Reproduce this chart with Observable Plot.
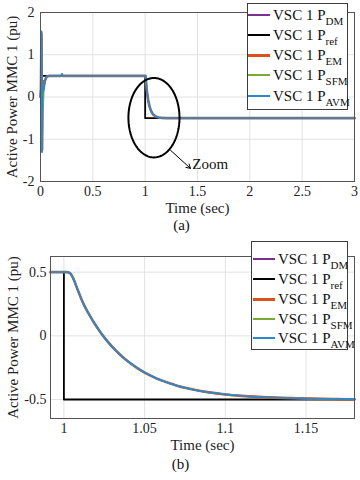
<!DOCTYPE html>
<html><head><meta charset="utf-8">
<script src="https://cdn.jsdelivr.net/npm/d3@7"></script>
<script src="https://cdn.jsdelivr.net/npm/@observablehq/plot@0.6"></script>
<style>
body{margin:0;background:#fff;}
#wrap{position:relative;width:360px;height:480px;font-family:"Liberation Serif",Tinos,"Times New Roman",Times,"DejaVu Serif",serif;overflow:hidden;}
.panel{position:absolute;left:0;width:360px;height:240px;}
.legend{position:absolute;background:#fff;border:1px solid #3c3c3c;box-sizing:border-box;}
.row{position:absolute;display:flex;align-items:center;height:20px;}
.sw{display:inline-block;width:22px;margin-right:3px;}
.lt{font-size:15px;line-height:20px;white-space:nowrap;color:#111;}
.lt sub{font-size:11px;vertical-align:-5px;line-height:0;}
</style></head>
<body>
<div id="wrap">
  <div class="panel" id="pa" style="top:0"></div>
  <div class="panel" id="pb" style="top:240px"></div>
</div>
<script>
// ---------- series meta ----------
const seriesNames = ["DM", "ref", "EM", "SFM", "AVM"];
const seriesColors = ["#7E2F8E", "#000000", "#D95319", "#77AC30", "#2b87d0"];
const legendPrefix = "VSC 1 P";

// ---------- panel (a): full run ----------
const tTop = [0, 0.004, 0.007, 0.009, 0.011, 0.013, 0.015, 0.017, 0.019, 0.022,
  0.026, 0.030, 0.035, 0.040, 0.050, 0.060, 0.070, 0.080, 0.100, 0.200,
  0.205, 0.210, 0.500, 1.000, 1.003, 1.006, 1.010, 1.015, 1.020, 1.025,
  1.030, 1.040, 1.050, 1.060, 1.070, 1.080, 1.100, 1.130, 1.160, 1.200,
  1.300, 3.000];
const pAVMTop = [0, 0.2, 1.0, 1.55, 0.9, -0.2, -1.3, -0.7, 0.05, 0.25,
  0.15, 0.18, 0.28, 0.36, 0.44, 0.48, 0.49, 0.5, 0.5, 0.5,
  0.54, 0.5, 0.5, 0.5, 0.5, 0.44, 0.315, 0.182, 0.077, -0.012,
  -0.087, -0.204, -0.288, -0.348, -0.391, -0.422, -0.46, -0.485, -0.495, -0.499,
  -0.5, -0.5];
const pDMTop = pAVMTop.slice();
const pEMTop = [0, 0.2, 1.0, 1.5, 0.9, -0.2, -1.25, -0.7, 0.05, 0.38,
  0.3, 0.2, 0.28, 0.36, 0.44, 0.48, 0.49, 0.5, 0.5, 0.5,
  0.53, 0.5, 0.5, 0.5, 0.5, 0.44, 0.315, 0.182, 0.077, -0.012,
  -0.087, -0.204, -0.288, -0.348, -0.391, -0.422, -0.46, -0.485, -0.495, -0.499,
  -0.5, -0.5];
const pSFMTop = [0, 0.2, 1.0, 1.5, 0.9, -0.2, -1.2, -0.7, 0.05, 0.1,
  -0.27, 0.0, 0.25, 0.36, 0.44, 0.48, 0.49, 0.5, 0.5, 0.5,
  0.53, 0.5, 0.5, 0.5, 0.5, 0.44, 0.315, 0.182, 0.077, -0.012,
  -0.087, -0.204, -0.288, -0.348, -0.391, -0.422, -0.46, -0.485, -0.495, -0.499,
  -0.5, -0.5];
const tRefTop = [0, 0.015, 0.015, 1.0, 1.0, 3.0];
const pRefTop = [0, 0, 0.5, 0.5, -0.5, -0.5];
const xTicksTop = [0, 0.5, 1, 1.5, 2, 2.5, 3];
const yTicksTop = [-2, -1, 0, 1, 2];
const zoomEllipse = {cx: 1.084, cy: -0.49, rx: 0.244, ry: 0.94};
const zoomArrow = {x1: 1.242, y1: -1.26, x2: 1.433, y2: -1.69};
const zoomLabel = {x: 1.45, y: -1.6, text: "Zoom"};

// ---------- panel (b): zoom ----------
const tBot = [0.9917, 1.000, 1.002, 1.004, 1.006, 1.008, 1.010, 1.0125, 1.015, 1.0175,
  1.020, 1.0225, 1.025, 1.030, 1.035, 1.040, 1.045, 1.050, 1.055, 1.060,
  1.065, 1.070, 1.075, 1.080, 1.090, 1.100, 1.110, 1.120, 1.130, 1.140,
  1.150, 1.160, 1.170, 1.180];
const pBot = [0.5, 0.5, 0.5, 0.49, 0.445, 0.38, 0.315, 0.241, 0.182, 0.127,
  0.077, 0.031, -0.012, -0.087, -0.15, -0.204, -0.249, -0.288, -0.32, -0.348,
  -0.371, -0.391, -0.408, -0.422, -0.444, -0.46, -0.471, -0.479, -0.485, -0.489,
  -0.4925, -0.495, -0.497, -0.498];
const tRefBot = [0.9917, 1.0, 1.0, 1.18];
const pRefBot = [0.5, 0.5, -0.5, -0.5];
const xTicksBot = [1, 1.05, 1.1, 1.15];
const yTicksBot = [-0.5, 0, 0.5];

const yLabel = "Active Power MMC 1 (pu)";
const xLabel = "Time (sec)";

const font = '"Liberation Serif", Tinos, "Times New Roman", Times, "DejaVu Serif", serif';
const toRows = (t, p) => t.map((d, i) => ({t: d, p: p[i]}));

function seriesMarks(rowsBySeries, curve) {
  const widths = {DM: 1.5, ref: 1.8, EM: 2.6, SFM: 1.3, AVM: 1.8};
  return seriesNames.map((s, i) =>
    Plot.line(rowsBySeries[s], {x: "t", y: "p", stroke: seriesColors[i], strokeWidth: widths[s], curve: s === "ref" ? "linear" : curve}));
}

// ----- chart (a)
const topRows = {
  DM: toRows(tTop, pDMTop), ref: toRows(tRefTop, pRefTop), EM: toRows(tTop, pEMTop),
  SFM: toRows(tTop, pSFMTop), AVM: toRows(tTop, pAVMTop)
};
const ellipsePts = d3.range(0, 2 * Math.PI + 0.02, 0.04).map(a => ({
  t: zoomEllipse.cx + zoomEllipse.rx * Math.cos(a), p: zoomEllipse.cy + zoomEllipse.ry * Math.sin(a)
}));
const chartA = Plot.plot({
  width: 360, height: 240, marginLeft: 40, marginRight: 6, marginTop: 12, marginBottom: 59,
  style: {fontFamily: font, fontSize: "14px", background: "white", color: "#222"},
  x: {domain: [0, 3], ticks: xTicksTop, tickSize: 0, tickPadding: 5, tickFormat: d => String(d), label: null},
  y: {domain: [-2, 2], ticks: yTicksTop, tickSize: 0, tickPadding: 6, tickFormat: d => String(d), label: null},
  marks: [
    Plot.ruleX(xTicksTop, {stroke: "#e2e2e2"}),
    Plot.ruleY(yTicksTop, {stroke: "#e2e2e2"}),
    ...seriesMarks(topRows, "linear"),
    Plot.line(ellipsePts, {x: "t", y: "p", stroke: "#000", strokeWidth: 2}),
    Plot.arrow([zoomArrow], {x1: "x1", y1: "y1", x2: "x2", y2: "y2", stroke: "#000", strokeWidth: 1, headLength: 7}),
    Plot.text([zoomLabel], {x: "x", y: "y", text: "text", textAnchor: "start", fontSize: 15, fill: "#111", fontFamily: font}),
    Plot.frame({stroke: "#555"}),
    Plot.text([yLabel], {frameAnchor: "left", textAnchor: "middle", dx: -28, rotate: -90, fontSize: 15, fill: "#222", fontFamily: font}),
    Plot.text([xLabel], {frameAnchor: "bottom", textAnchor: "middle", dy: 31, fontSize: 15, fill: "#222", fontFamily: font}),
    Plot.text(["(a)"], {frameAnchor: "bottom", textAnchor: "middle", dy: 48, dx: -16, fontSize: 15, fill: "#111", fontFamily: font})
  ]
});
document.getElementById("pa").append(chartA);

// ----- chart (b)
const botRows = {
  DM: toRows(tBot, pBot), ref: toRows(tRefBot, pRefBot), EM: toRows(tBot, pBot),
  SFM: toRows(tBot, pBot), AVM: toRows(tBot, pBot)
};
const chartB = Plot.plot({
  width: 360, height: 240, marginLeft: 50, marginRight: 6, marginTop: 16, marginBottom: 62,
  style: {fontFamily: font, fontSize: "14px", background: "white", color: "#222"},
  x: {domain: [0.9917, 1.18], ticks: xTicksBot, tickSize: 0, tickPadding: 5, tickFormat: d => String(d), label: null},
  y: {domain: [-0.649, 0.623], ticks: yTicksBot, tickSize: 0, tickPadding: 4, tickFormat: d => String(d), label: null},
  marks: [
    Plot.ruleX(xTicksBot, {stroke: "#e2e2e2"}),
    Plot.ruleY(yTicksBot, {stroke: "#e2e2e2"}),
    ...seriesMarks(botRows, "monotone-x"),
    Plot.frame({stroke: "#555"}),
    Plot.text([yLabel], {frameAnchor: "left", textAnchor: "middle", dx: -37, rotate: -90, fontSize: 15, fill: "#222", fontFamily: font}),
    Plot.text([xLabel], {frameAnchor: "bottom", textAnchor: "middle", dy: 31, fontSize: 15, fill: "#222", fontFamily: font}),
    Plot.text(["(b)"], {frameAnchor: "bottom", textAnchor: "middle", dy: 50, dx: -22, fontSize: 15, fill: "#111", fontFamily: font})
  ]
});
document.getElementById("pb").append(chartB);

// ----- legends (HTML overlays)
function legend(box, rowTops, lineLeft, swWidths) {
  const wrap = document.getElementById("wrap");
  const lg = document.createElement("div");
  lg.className = "legend";
  Object.assign(lg.style, {left: box.left + "px", top: box.top + "px", width: box.w + "px", height: box.h + "px"});
  wrap.append(lg);
  seriesNames.forEach((s, i) => {
    const r = document.createElement("div");
    r.className = "row";
    r.style.left = lineLeft + "px";
    r.style.top = (rowTops[i] - 10) + "px";
    const sw = document.createElement("span");
    sw.className = "sw";
    sw.style.background = seriesColors[i];
    sw.style.height = swWidths[i] + "px";
    const tx = document.createElement("span");
    tx.className = "lt";
    tx.textContent = legendPrefix;
    const sub = document.createElement("sub");
    sub.textContent = s;
    tx.append(sub);
    r.append(sw, tx);
    wrap.append(r);
  });
}
const swW = [1.5, 2, 3, 1.3, 2];
legend({left: 247, top: 3, w: 101, h: 107}, [15, 35, 55, 75, 96], 248, swW);
legend({left: 251, top: 241, w: 97, h: 109}, [259, 279, 299, 319, 338], 253, swW);
</script>
</body></html>
